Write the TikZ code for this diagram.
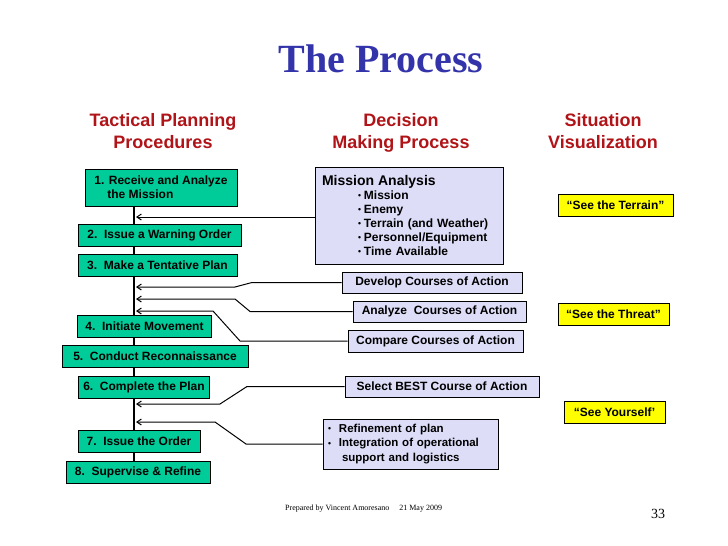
\documentclass[tikz,border=0pt]{standalone}
\usepackage{fontspec}
\setmainfont{Liberation Sans}
\newfontfamily\timesfont{Liberation Serif}
\usetikzlibrary{arrows.meta}

\definecolor{titleblue}{RGB}{51,51,170}
\definecolor{headred}{RGB}{176,20,24}
\definecolor{stepgreen}{RGB}{0,204,153}
\definecolor{dmplav}{RGB}{221,221,248}
\definecolor{svyellow}{RGB}{255,255,0}

\newcommand{\mbul}{\raisebox{0.15ex}{\fontsize{8.5}{8.5}\selectfont\textbullet}}

\tikzset{
  stepbox/.style={draw, line width=1pt, fill=stepgreen, inner sep=0pt, minimum height=22pt, font=\fontsize{12}{14}\selectfont\bfseries},
  dmpbox/.style={stepbox, fill=dmplav},
  svbox/.style={stepbox, fill=svyellow},
  head/.style={text=headred, align=center, inner sep=0pt, anchor=north, font=\fontsize{18}{22}\selectfont\bfseries},
  feed/.style={-{Straight Barb[length=4.5pt,width=6pt]}, line width=1pt},
}

\begin{document}
\begin{tikzpicture}[x=1pt, y=-1pt]
\useasboundingbox (0,0) rectangle (728,546);

% Title and column headings
\node[text=titleblue, anchor=base, font=\timesfont\fontsize{40}{40}\selectfont\bfseries] (title) at (381,72) {The Process};
\node[head] (htpp) at (163,113.5) {Tactical Planning\\Procedures};
\node[head] (hdmp) at (401,113.5) {Decision\\Making Process};
\node[head] (hsv) at (603,113.5) {Situation\\Visualization};

% Tactical planning procedures
\node[stepbox, minimum width=152pt, minimum height=37pt, align=left] (s1) at (161,187.5) {1. Receive and Analyze\\\hspace*{13pt}the Mission};
\node[stepbox, minimum width=163pt] (s2) at (159.5,235.5) {2.\ \ Issue a Warning Order};
\node[stepbox, minimum width=159pt] (s3) at (157.5,265.5) {3.\ \ Make a Tentative Plan};
\node[stepbox, minimum width=134pt] (s4) at (144.5,326.5) {4.\ \ Initiate Movement};
\node[stepbox, minimum width=186pt] (s5) at (155,356) {5.\ \ Conduct Reconnaissance};
\node[stepbox, minimum width=131pt] (s6) at (144,387) {6.\ \ Complete the Plan};
\node[stepbox, minimum width=122pt] (s7) at (139,441.5) {7.\ \ Issue the Order};
\node[stepbox, minimum width=144pt] (s8) at (138,472) {8.\ \ Supervise \& Refine};

% Spine between the steps
\coordinate (sp) at (134,0);
\foreach \a/\b in {s1/s2,s2/s3,s3/s4,s4/s5,s5/s6,s6/s7,s7/s8}
  \draw[line width=2pt] (\a.south -| sp) -- (\b.north -| sp);

% Decision making process
\node[dmpbox, minimum width=188pt, minimum height=97pt, align=left, text width=174pt] (ma) at (409,215.5)
  {{\fontsize{14}{14.5}\selectfont Mission Analysis}\\
   \hspace*{36pt}\mbul\hspace{3pt}Mission\\
   \hspace*{36pt}\mbul\hspace{3pt}Enemy\\
   \hspace*{36pt}\mbul\hspace{3pt}Terrain (and Weather)\\
   \hspace*{36pt}\mbul\hspace{3pt}Personnel/Equipment\\
   \hspace*{36pt}\mbul\hspace{3pt}Time Available};
\node[dmpbox, minimum width=180pt, minimum height=21pt] (dev) at (432,282.5) {Develop Courses of Action};
\node[dmpbox, minimum width=173pt, minimum height=21pt] (ana) at (439.5,311.5) {Analyze\ \ Courses of Action};
\node[dmpbox, minimum width=175pt] (cmp) at (435.5,341) {Compare Courses of Action};
\node[dmpbox, minimum width=194pt, minimum height=21pt] (sel) at (442,386.5) {Select BEST Course of Action};
\node[dmpbox, minimum width=175pt, minimum height=50pt, align=left, text width=165pt, font=\fontsize{11.5}{14.5}\selectfont\bfseries] (ref) at (410.5,444)
  {\mbul\hspace{8pt}Refinement of plan\\
   \mbul\hspace{8pt}Integration of operational\\
   \hspace*{14pt}support and logistics};

% Feeds into the spine
\coordinate (f1) at (136,217);
\coordinate (f2) at (136,287);
\coordinate (f3) at (136,299);
\coordinate (f4) at (136,311);
\coordinate (f5) at (136,404);
\coordinate (f6) at (136,422);
\draw[feed] (ma.west |- f1) -- (f1);
\draw[feed] (dev.west) -- (252,282.5) -- (235,287) -- (f2);
\draw[feed] (ana.west) -- (250,311.5) -- (235,299) -- (f3);
\draw[feed] (cmp.west) -- (240,341) -- (213,311) -- (f4);
\draw[feed] (sel.west) -- (247,386.5) -- (220,404) -- (f5);
\draw[feed] (ref.west) -- (246,444) -- (215,422) -- (f6);

% Situation visualization
\node[svbox, minimum width=115pt] (ter) at (615.5,205) {“See the Terrain”};
\node[svbox, minimum width=111pt] (thr) at (613.5,314) {“See the Threat”};
\node[svbox, minimum width=101pt] (you) at (614.5,412) {“See Yourself’};

% Footer
\node[anchor=base west, inner sep=0pt, font=\timesfont\fontsize{8}{8}\selectfont] (prep) at (285,510) {Prepared by Vincent Amoresano\hspace{10pt}21 May 2009};
\node[anchor=base, inner sep=0pt, font=\timesfont\fontsize{14}{14}\selectfont] (page) at (658,518) {33};

\end{tikzpicture}
\end{document}
